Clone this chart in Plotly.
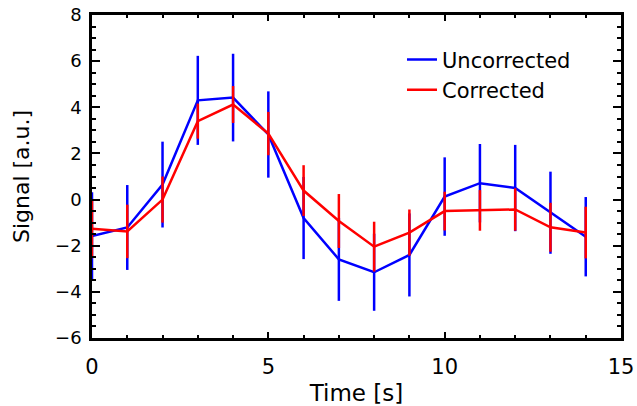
import plotly.graph_objects as go

time_s = [0, 1, 2, 3, 4, 5, 6, 7, 8, 9, 10, 11, 12, 13, 14]
uncorrected = [-1.58, -1.21, 0.65, 4.30, 4.42, 2.82, -0.80, -2.59, -3.15, -2.40, 0.13, 0.71, 0.50, -0.57, -1.61]
uncorrected_err = [1.90, 1.84, 1.86, 1.93, 1.90, 1.87, 1.78, 1.80, 1.67, 1.80, 1.70, 1.70, 1.87, 1.78, 1.72]
corrected = [-1.27, -1.38, 0.0, 3.40, 4.12, 2.86, 0.39, -0.93, -2.04, -1.43, -0.50, -0.47, -0.43, -1.20, -1.43]
corrected_err = [1.27, 1.16, 1.0, 0.76, 0.80, 0.94, 1.10, 1.17, 1.08, 1.00, 0.84, 0.88, 0.92, 1.06, 1.12]

FONT = "DejaVu Sans"

fig = go.Figure()
fig.add_trace(go.Scatter(
    x=time_s, y=uncorrected, mode="lines", name="Uncorrected",
    line=dict(color="rgb(0,0,255)", width=2.5),
    error_y=dict(type="data", array=uncorrected_err, visible=True,
                 color="rgb(0,0,255)", thickness=2.5, width=0),
))
fig.add_trace(go.Scatter(
    x=time_s, y=corrected, mode="lines", name="Corrected",
    line=dict(color="rgb(255,0,0)", width=2.5),
    error_y=dict(type="data", array=corrected_err, visible=True,
                 color="rgb(255,0,0)", thickness=2.5, width=0),
))

fig.update_layout(
    width=637, height=406,
    margin=dict(l=92, r=16, t=15, b=68, autoexpand=False),
    paper_bgcolor="white", plot_bgcolor="white",
    font=dict(family=FONT, color="black", size=21),
    showlegend=True,
    legend=dict(x=0.586, y=0.925, xanchor="left", yanchor="top",
                bgcolor="rgba(0,0,0,0)", font=dict(size=21, family=FONT),
                tracegroupgap=0),
)
fig.update_xaxes(
    automargin=False,
    range=[0, 15], tickmode="linear", tick0=0, dtick=5,
    showgrid=False, zeroline=False,
    showline=True, linecolor="black", linewidth=2.5, mirror="ticks",
    ticks="inside", ticklen=6, tickwidth=2, tickcolor="black",
    minor=dict(dtick=1, ticks="inside", ticklen=3, tickwidth=2, tickcolor="black", showgrid=False),
    tickfont=dict(size=21, family=FONT), ticklabelstandoff=8,
    title=dict(text="Time [s]", font=dict(size=23, family=FONT), standoff=8),
)
fig.update_yaxes(
    automargin=False,
    range=[-6, 8], tickmode="linear", tick0=-6, dtick=2,
    showgrid=False, zeroline=False,
    showline=True, linecolor="black", linewidth=2.5, mirror="ticks",
    ticks="inside", ticklen=8, tickwidth=2, tickcolor="black",
    minor=dict(dtick=0.5, ticks="inside", ticklen=4, tickwidth=2, tickcolor="black", showgrid=False),
    tickfont=dict(size=18, family=FONT), ticklabelstandoff=4,
    title=dict(text="Signal [a.u.]", font=dict(size=22, family=FONT), standoff=20),
)

fig.write_html(
    "out.html",
    config={"displayModeBar": False},
    post_script="document.body.style.margin='0';document.body.style.overflow='hidden';",
)
